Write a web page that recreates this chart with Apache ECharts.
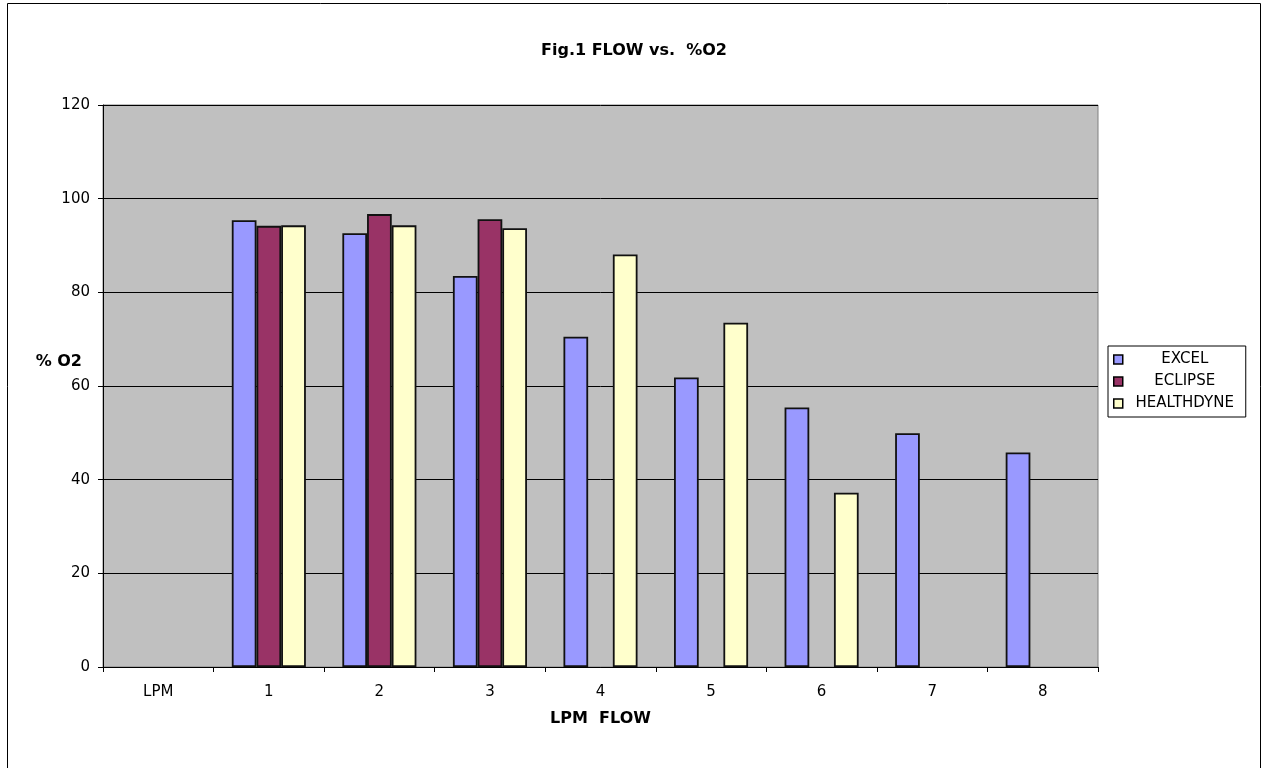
<!DOCTYPE html>
<html>
<head>
<meta charset="utf-8">
<script src="https://cdn.jsdelivr.net/npm/echarts@6/dist/echarts.min.js"></script>
<style>html,body{margin:0;padding:0;background:#fff;}#c{width:1268px;height:768px;}</style>
</head>
<body>
<div id="c"></div>
<script>
var categories = ['LPM', '1', '2', '3', '4', '5', '6', '7', '8'];
var excel = [null, 95.4, 92.6, 83.5, 70.5, 61.8, 55.4, 49.9, 45.8];
var eclipse = [null, 94.2, 96.7, 95.6, null, null, null, null, null];
var healthdyne = [null, 94.3, 94.3, 93.7, 88.1, 73.5, 37.2, null, null];
var yTicks = [0, 20, 40, 60, 80, 100, 120];

var FONT = 'DejaVu Sans';
var chart = echarts.init(document.getElementById('c'));
function bar(name, data, color) {
  return {
    name: name, type: 'bar', data: data, barGap: 0, barCategoryGap: '33%',
    itemStyle: { color: color, borderColor: '#111', borderWidth: 1.8 }
  };
}
chart.setOption({
  animation: false,
  textStyle: { fontFamily: FONT },
  title: {
    text: 'Fig.1 FLOW vs.  %O2', left: 'center', top: 38,
    textStyle: { fontFamily: FONT, fontSize: 16, fontWeight: 'bold', color: '#000' }
  },
  graphic: [{
    type: 'rect', shape: { x: 7.5, y: 3.5, width: 1253, height: 780 },
    style: { fill: 'none', stroke: '#000', lineWidth: 1 }, silent: true, z: -10
  }],
  grid: {
    left: 103, right: 170, top: 105, bottom: 101, show: true,
    backgroundColor: '#C0C0C0', borderColor: '#808080', borderWidth: 1
  },
  legend: {
    orient: 'vertical', left: 1108, top: 346, itemWidth: 9, itemHeight: 9, itemGap: 7,
    backgroundColor: '#fff', borderColor: '#000', borderWidth: 1, padding: [6, 4, 6, 5],
    icon: 'rect',
    data: ['EXCEL', 'ECLIPSE', 'HEALTHDYNE'].map(function (n) { return { name: n, itemStyle: { borderColor: '#000', borderWidth: 1.5 } }; }),
    formatter: function (n) { return '{a|' + n + '}'; },
    textStyle: {
      fontFamily: FONT, fontSize: 15, color: '#000', padding: [0, 0, 0, 0],
      rich: { a: { width: 114, align: 'center', lineHeight: 17, fontFamily: FONT, fontSize: 15, color: '#000' } }
    }
  },
  xAxis: {
    type: 'category', data: categories,
    name: 'LPM  FLOW', nameLocation: 'middle', nameGap: 44, nameMoveOverlap: false,
    nameTextStyle: { fontFamily: FONT, fontSize: 16, fontWeight: 'bold', color: '#000' },
    axisLine: { lineStyle: { color: '#000', width: 1 } },
    axisTick: { show: true, length: 5, lineStyle: { color: '#000' } },
    axisLabel: { fontFamily: FONT, fontSize: 15, color: '#000', margin: 18 },
    splitLine: { show: false }
  },
  yAxis: {
    type: 'value', min: 0, max: 120, interval: 20,
    name: '% O2', nameLocation: 'middle', nameRotate: 0, nameGap: 21, nameMoveOverlap: false,
    nameTextStyle: { fontFamily: FONT, fontSize: 16, fontWeight: 'bold', color: '#000', align: 'right', verticalAlign: 'bottom', padding: [0, 0, 16, 0] },
    axisLine: { show: true, lineStyle: { color: '#000', width: 1 } },
    axisTick: { show: true, length: 5, lineStyle: { color: '#000' } },
    axisLabel: {
      fontFamily: FONT, fontSize: 15, color: '#000', margin: 13,
      formatter: function (v) { return yTicks.indexOf(v) >= 0 ? String(v) : ''; }
    },
    splitLine: { show: true, lineStyle: { color: '#000', width: 1 } }
  },
  series: [
    bar('EXCEL', excel, '#9999FF'),
    bar('ECLIPSE', eclipse, '#993366'),
    bar('HEALTHDYNE', healthdyne, '#FFFFCC')
  ]
});
</script>
</body>
</html>
